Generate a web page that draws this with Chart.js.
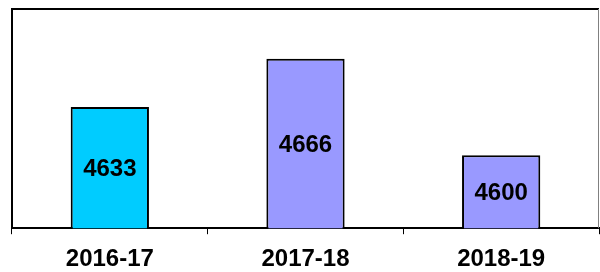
<!DOCTYPE html>
<html>
<head>
<meta charset="utf-8">
<script src="https://cdn.jsdelivr.net/npm/chart.js@4"></script>
<style>
  html, body { margin: 0; padding: 0; background: #fff; }
  #wrap { width: 600px; height: 272px; }
</style>
</head>
<body>
<div id="wrap"><canvas id="chart"></canvas></div>
<script>
// values
const years = ['2016-17', '2017-18', '2018-19'];
const counts = [4633, 4666, 4600];
const barColors = ['#00CCFF', '#9999FF', '#9999FF'];

const FONT = '"Liberation Sans", Arial, sans-serif';

// frame + value labels inside the bars
const framePlugin = {
  id: 'frame',
  afterDraw(chart) {
    const { ctx, chartArea: a } = chart;
    const yScale = chart.scales.y;
    ctx.save();
    ctx.strokeStyle = '#000';
    ctx.lineWidth = 2;
    ctx.beginPath();
    ctx.moveTo(a.left, a.bottom);
    ctx.lineTo(a.left, a.top);
    ctx.lineTo(a.right, a.top);
    ctx.stroke();
    ctx.strokeStyle = '#808080';
    ctx.lineWidth = 1;
    ctx.beginPath();
    ctx.moveTo(a.right - 0.5, a.top);
    ctx.lineTo(a.right - 0.5, a.bottom);
    ctx.stroke();

    ctx.fillStyle = '#000';
    ctx.font = 'bold 24px ' + FONT;
    ctx.textAlign = 'center';
    ctx.textBaseline = 'middle';
    const meta = chart.getDatasetMeta(0);
    meta.data.forEach((bar, i) => {
      const top = yScale.getPixelForValue(counts[i]);
      const base = yScale.getPixelForValue(yScale.min);
      ctx.fillText(String(counts[i]), bar.x, (top + base) / 2 + 2);
    });
    ctx.restore();
  }
};

new Chart(document.getElementById('chart'), {
  type: 'bar',
  data: {
    labels: years,
    datasets: [{
      data: counts,
      backgroundColor: barColors,
      borderColor: '#000',
      borderWidth: 2,
      borderSkipped: false,
      barPercentage: 0.4,
      categoryPercentage: 1
    }]
  },
  options: {
    responsive: true,
    maintainAspectRatio: false,
    animation: false,
    layout: { padding: { left: 12, top: 9, right: 1, bottom: -13 } },
    plugins: {
      legend: { display: false },
      tooltip: { enabled: false }
    },
    scales: {
      y: {
        display: false,
        min: 4550,
        max: 4700
      },
      x: {
        border: { display: true, color: '#000', width: 2 },
        grid: {
          offset: true,
          drawOnChartArea: false,
          drawTicks: true,
          tickLength: 6,
          color: '#000'
        },
        ticks: {
          color: '#000',
          padding: 11,
          font: { family: FONT, size: 24, weight: 'bold' }
        }
      }
    }
  },
  plugins: [framePlugin]
});
</script>
</body>
</html>
